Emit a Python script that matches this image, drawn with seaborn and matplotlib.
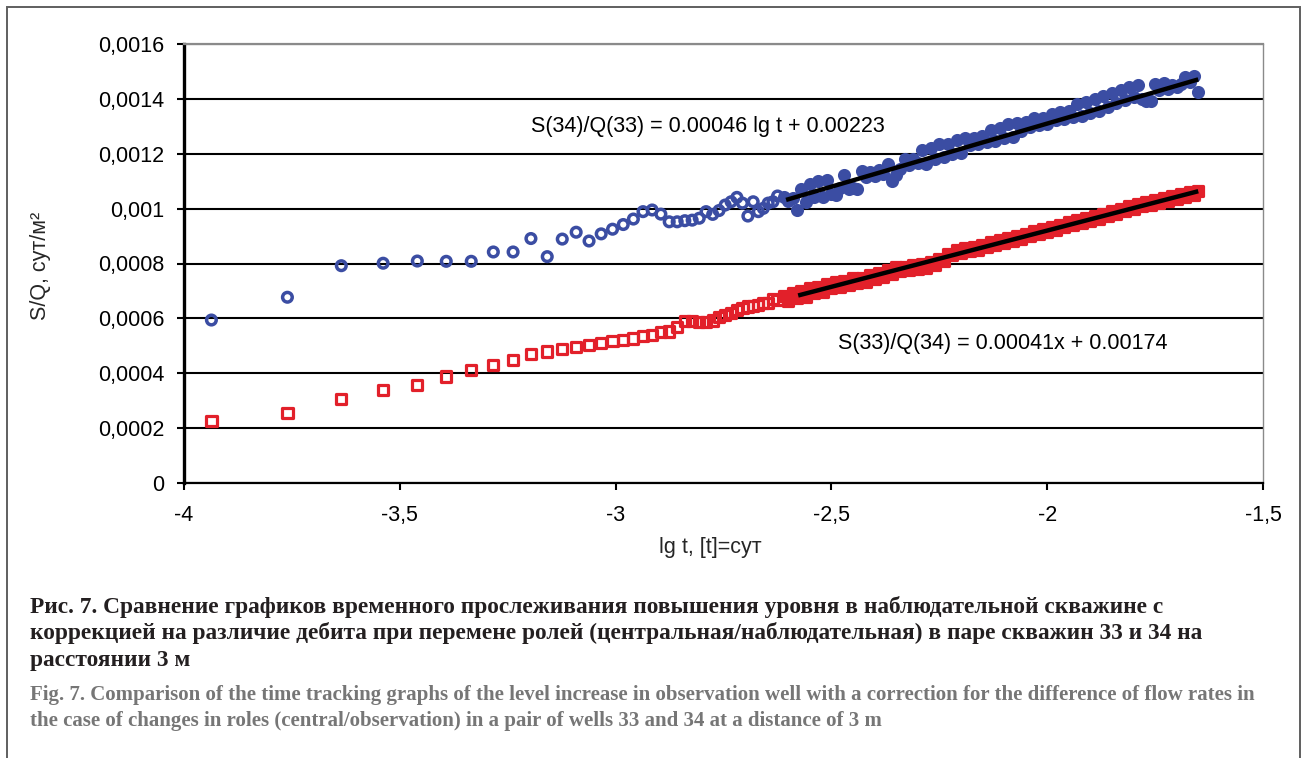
import numpy as np
import pandas as pd
import matplotlib
matplotlib.use("Agg")
import matplotlib.pyplot as plt
import seaborn as sns
from matplotlib.ticker import FuncFormatter, MultipleLocator
from matplotlib.patches import Rectangle

# ---------------- data ----------------
# early time points, x = lg t, [t] = сут
lg_t_early = [-3.9365, -3.7604, -3.6355, -3.5386, -3.4594, -3.3924, -3.3345, -3.2833,
              -3.2375, -3.1962, -3.1584, -3.1236, -3.0914, -3.0615, -3.0334, -3.0071,
              -2.9823, -2.9588, -2.9365, -2.9153, -2.8951, -2.8758, -2.8573, -2.8396,
              -2.8226, -2.8062, -2.7904, -2.7751, -2.7604, -2.7462, -2.7324, -2.7190,
              -2.7061, -2.6935, -2.6812, -2.6693, -2.6578, -2.6465, -2.6355, -2.6248]
# S(34)/Q(33), blue circles
sq34_early = [0.000594, 0.000677, 0.000792, 0.000801, 0.000809, 0.000808, 0.000808, 0.000842,
              0.000842, 0.000891, 0.000825, 0.000889, 0.000914, 0.000882, 0.000908, 0.000925,
              0.000942, 0.000962, 0.000989, 0.000995, 0.000980, 0.000952, 0.000952, 0.000956,
              0.000958, 0.000965, 0.000989, 0.000979, 0.000993, 0.001013, 0.001025, 0.001041,
              0.001020, 0.000973, 0.001025, 0.000989, 0.001001, 0.001020, 0.001025, 0.001046]
# S(33)/Q(34), red squares
sq33_early = [0.000225, 0.000256, 0.000306, 0.000339, 0.000356, 0.000388, 0.000413, 0.000429,
              0.000447, 0.000471, 0.000479, 0.000488, 0.000495, 0.000503, 0.000511, 0.000518,
              0.000522, 0.000527, 0.000536, 0.000539, 0.000549, 0.000552, 0.000570, 0.000590,
              0.000590, 0.000588, 0.000588, 0.000592, 0.000606, 0.000612, 0.000619, 0.000631,
              0.000637, 0.000643, 0.000645, 0.000649, 0.000655, 0.000655, 0.000670, 0.000666]

# late time (dense band), read at lg t steps
lg_t_late = [-2.61, -2.60, -2.59, -2.58, -2.57, -2.56, -2.55, -2.54, -2.53, -2.52,
             -2.51, -2.50, -2.49, -2.48, -2.47, -2.46, -2.45, -2.44, -2.43, -2.42,
             -2.41, -2.40, -2.39, -2.38, -2.37, -2.36, -2.35, -2.34, -2.33, -2.32,
             -2.31, -2.30, -2.29, -2.28, -2.27, -2.26, -2.25, -2.24, -2.23, -2.22,
             -2.21, -2.20, -2.19, -2.18, -2.17, -2.16, -2.15, -2.14, -2.13, -2.12,
             -2.11, -2.10, -2.09, -2.08, -2.07, -2.06, -2.05, -2.04, -2.03, -2.02,
             -2.01, -2.00, -1.99, -1.98, -1.97, -1.96, -1.95, -1.94, -1.93, -1.92,
             -1.91, -1.90, -1.89, -1.88, -1.87, -1.86, -1.85, -1.84, -1.83, -1.82,
             -1.81, -1.80, -1.79, -1.78, -1.77, -1.76, -1.75, -1.74, -1.73, -1.72,
             -1.71, -1.70, -1.69, -1.68, -1.67, -1.66, -1.65]
sq34_late = [0.001042, 0.001028, 0.001037, 0.000995, 0.001071, 0.001024, 0.001090, 0.001044, 0.001102, 0.001041,
             0.001103, 0.001054, 0.001051, 0.001076, 0.001124, 0.001070, 0.001076, 0.001070, 0.001138, 0.001114,
             0.001134, 0.001120, 0.001141, 0.001127, 0.001161, 0.001099, 0.001124, 0.001146, 0.001181, 0.001160,
             0.001180, 0.001166, 0.001215, 0.001163, 0.001222, 0.001182, 0.001235, 0.001187, 0.001237, 0.001199,
             0.001251, 0.001203, 0.001256, 0.001231, 0.001258, 0.001236, 0.001264, 0.001243, 0.001288, 0.001245,
             0.001295, 0.001258, 0.001309, 0.001260, 0.001311, 0.001284, 0.001315, 0.001299, 0.001329, 0.001303,
             0.001331, 0.001310, 0.001345, 0.001323, 0.001352, 0.001328, 0.001356, 0.001335, 0.001380, 0.001337,
             0.001387, 0.001350, 0.001399, 0.001357, 0.001410, 0.001371, 0.001422, 0.001384, 0.001434, 0.001395,
             0.001445, 0.001406, 0.001450, 0.001398, 0.001391, 0.001394, 0.001453, 0.001432, 0.001457, 0.001436,
             0.001451, 0.001442, 0.001456, 0.001478, 0.001460, 0.001483, 0.001426]
sq33_late = [0.000680, 0.000663, 0.000691, 0.000673, 0.000698, 0.000677, 0.000709, 0.000693, 0.000716, 0.000696,
             0.000725, 0.000709, 0.000732, 0.000715, 0.000738, 0.000721, 0.000746, 0.000729, 0.000748, 0.000734,
             0.000757, 0.000742, 0.000766, 0.000751, 0.000776, 0.000761, 0.000787, 0.000771, 0.000789, 0.000775,
             0.000793, 0.000779, 0.000797, 0.000785, 0.000807, 0.000793, 0.000818, 0.000809, 0.000836, 0.000830,
             0.000848, 0.000838, 0.000855, 0.000844, 0.000861, 0.000850, 0.000868, 0.000859, 0.000877, 0.000867,
             0.000884, 0.000875, 0.000893, 0.000883, 0.000900, 0.000890, 0.000909, 0.000900, 0.000918, 0.000908,
             0.000925, 0.000916, 0.000934, 0.000923, 0.000941, 0.000932, 0.000951, 0.000941, 0.000958, 0.000948,
             0.000966, 0.000956, 0.000973, 0.000964, 0.000982, 0.000972, 0.000991, 0.000982, 0.001000, 0.000991,
             0.001009, 0.001000, 0.001017, 0.001008, 0.001024, 0.001014, 0.001032, 0.001022, 0.001039, 0.001029,
             0.001045, 0.001036, 0.001052, 0.001043, 0.001059, 0.001049, 0.001066]

# trend lines (slope, intercept) and their lg t range
fit34_coef = [0.00046, 0.00223]
fit34_range = [-2.605, -1.65]
fit33_coef = [0.00041, 0.00174]
fit33_range = [-2.577, -1.65]

eq34_label = "S(34)/Q(33) = 0.00046 lg t + 0.00223"
eq33_label = "S(33)/Q(34) = 0.00041x + 0.00174"
x_label = "lg t, [t]=сут"
y_label = "S/Q, сут/м\u00b2"
caption_ru = ["Рис. 7. Сравнение графиков временного прослеживания повышения уровня в наблюдательной скважине с",
              "коррекцией на различие дебита при перемене ролей (центральная/наблюдательная) в паре скважин 33 и 34 на",
              "расстоянии 3 м"]
caption_en = ["Fig. 7. Comparison of the time tracking graphs of the level increase in observation well with a correction for the difference of flow rates in",
              "the case of changes in roles (central/observation) in a pair of wells 33 and 34 at a distance of 3 m"]

# ---------------- plotting ----------------
sns.set_theme(style="white")
plt.rcParams["font.family"] = ["Liberation Sans", "DejaVu Sans"]

W, H = 1306, 758
fig = plt.figure(figsize=(W / 100, H / 100), dpi=100)
fig.patch.set_facecolor("white")
ax = fig.add_axes([184 / W, 1 - 483 / H, (1263 - 184) / W, (483 - 44) / H])

blue = "#3B4DA3"
red = "#E2202A"

early34 = pd.DataFrame({"lg_t": lg_t_early, "sq": sq34_early})
late34 = pd.DataFrame({"lg_t": lg_t_late, "sq": sq34_late})
early33 = pd.DataFrame({"lg_t": lg_t_early, "sq": sq33_early})
late33 = pd.DataFrame({"lg_t": lg_t_late, "sq": sq33_late})

# sparse early points: hollow markers
sns.scatterplot(data=early34, x="lg_t", y="sq", ax=ax, marker="o", s=48,
                color=blue, facecolor="none", edgecolor=blue, linewidth=2.5, zorder=3)
sns.scatterplot(data=early33, x="lg_t", y="sq", ax=ax, marker="s", s=54,
                color=red, facecolor="none", edgecolor=red, linewidth=2.3, zorder=3)
# dense late points: overlapping markers form a solid band
sns.scatterplot(data=late34, x="lg_t", y="sq", ax=ax, marker="o", s=48,
                color=blue, facecolor=blue, edgecolor=blue, linewidth=2.5, zorder=3)
sns.scatterplot(data=late33, x="lg_t", y="sq", ax=ax, marker="s", s=54,
                color=red, facecolor=red, edgecolor=red, linewidth=2.3, zorder=3)

for coef, rng in [(fit34_coef, fit34_range), (fit33_coef, fit33_range)]:
    xf = np.array(rng)
    yf = coef[0] * xf + coef[1]
    sns.lineplot(x=xf, y=yf, ax=ax, color="black", linewidth=3.2, zorder=4,
                 solid_capstyle="butt")

ax.set_xlim(-4, -1.5)
ax.set_ylim(0, 0.0016)
ax.xaxis.set_major_locator(MultipleLocator(0.5))
ax.yaxis.set_major_locator(MultipleLocator(0.0002))


def fmt_y(v, pos):
    if abs(v) < 1e-12:
        return "0"
    return f"{v:.4f}".rstrip("0").replace(".", ",")


def fmt_x(v, pos):
    return ("%g" % v).replace(".", ",")


ax.yaxis.set_major_formatter(FuncFormatter(fmt_y))
ax.xaxis.set_major_formatter(FuncFormatter(fmt_x))

ax.set_xlabel("")
ax.set_ylabel("")
ax.yaxis.grid(True, color="black", linewidth=1.5)
ax.xaxis.grid(False)
ax.set_axisbelow(True)

ax.spines["left"].set_color("black")
ax.spines["left"].set_linewidth(2.4)
ax.spines["bottom"].set_color("black")
ax.spines["bottom"].set_linewidth(1.6)
ax.spines["top"].set_color("#8a8a8a")
ax.spines["top"].set_linewidth(1.6)
ax.spines["right"].set_color("#8a8a8a")
ax.spines["right"].set_linewidth(1.0)
for sp in ax.spines.values():
    sp.set_zorder(2.6)

ax.tick_params(axis="y", which="major", direction="out", length=5, width=1.5,
               color="black", labelsize=15.5, pad=9, left=True, labelcolor="black")
ax.tick_params(axis="x", which="major", direction="out", length=5, width=1.5,
               color="black", labelsize=15.5, pad=11, bottom=True, labelcolor="black")

ax.text(-3.196, 0.0012976, eq34_label, fontsize=15.5, ha="left", va="center", color="black")
ax.text(-2.4847, 0.00051, eq33_label, fontsize=15.5, ha="left", va="center", color="black")

fig.text(710 / W, 1 - 548 / H, x_label, fontsize=15.5, ha="center", va="center")
fig.text(41 / W, 1 - 266 / H, y_label, fontsize=15.5, ha="center", va="center", rotation=90)

# outer frame
fig.patches.append(Rectangle((7 / W, -0.05), (1300 - 7) / W, 1 - 7 / H + 0.05,
                             transform=fig.transFigure, fill=False,
                             edgecolor="#5f5f5f", linewidth=1.4))

# captions fitted to the reference line widths
renderer = fig.canvas.get_renderer()


def fitted(lines, x_px, base_px, target_w, color, size0=14):
    t0 = fig.text(x_px / W, 1 - base_px[0] / H, lines[0], fontsize=size0,
                  family=["Liberation Serif", "DejaVu Serif"], weight="bold",
                  color=color, ha="left", va="baseline")
    w = t0.get_window_extent(renderer).width
    size = size0 * target_w / w
    t0.set_fontsize(size)
    for line, b in zip(lines[1:], base_px[1:]):
        fig.text(x_px / W, 1 - b / H, line, fontsize=size,
                 family=["Liberation Serif", "DejaVu Serif"], weight="bold",
                 color=color, ha="left", va="baseline")


fitted(caption_ru, 30, [613, 639.5, 666], 1163 - 30, "#231F20")
fitted(caption_en, 30, [700, 726], 1254 - 30, "#767676")

fig.savefig("out.png", dpi=100, facecolor="white")
